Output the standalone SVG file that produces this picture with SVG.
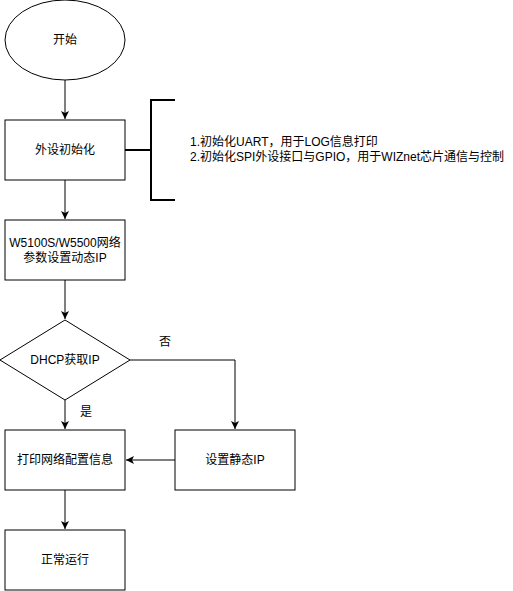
<svg xmlns="http://www.w3.org/2000/svg" width="513" height="591" viewBox="0 0 513 591">
<style>
.s{fill:#fff;stroke:#000;stroke-width:1}
.t{font-family:"Liberation Sans","Noto Sans CJK SC",sans-serif;font-size:12px;fill:#000;text-anchor:middle;dominant-baseline:central}
.tl{font-family:"Liberation Sans","Noto Sans CJK SC",sans-serif;font-size:12px;fill:#000;dominant-baseline:central}
.c{fill:none;stroke:#000;stroke-width:1}
</style>
<defs>
<marker id="a" markerWidth="10" markerHeight="10" refX="8" refY="4" orient="auto" markerUnits="userSpaceOnUse">
<path d="M0,0 L8,4 L0,8 L2,4 Z" fill="#000"/>
</marker>
</defs>
<rect width="513" height="591" fill="#fff"/>
<g id="connectors">
<path class="c" d="M65,80 V119" marker-end="url(#a)"/>
<path class="c" d="M65,180 V219" marker-end="url(#a)"/>
<path class="c" d="M65,280 V319" marker-end="url(#a)"/>
<path class="c" d="M65,400 V429" marker-end="url(#a)"/>
<path class="c" d="M130,360 H235 V429" marker-end="url(#a)"/>
<path class="c" d="M175,460 H126" marker-end="url(#a)"/>
<path class="c" d="M65,490 V529" marker-end="url(#a)"/>
<path class="c" d="M125,150 H150" style="stroke-width:2"/>
<text class="t" x="165" y="342">否</text>
<text class="t" x="86" y="412">是</text>
</g>
<g id="start"><ellipse class="s" cx="65" cy="40" rx="60" ry="40"/><text class="t" x="65" y="40">开始</text></g>
<g id="init"><rect class="s" x="5" y="120" width="120" height="60"/><text class="t" x="65" y="150">外设初始化</text></g>
<g id="note">
<path d="M175,100 H151 V200 H175" fill="none" stroke="#000" stroke-width="2"/>
<text class="tl" x="190" y="142">1.初始化UART，用于LOG信息打印</text>
<text class="tl" x="190" y="157">2.初始化SPI外设接口与GPIO，用于WIZnet芯片通信与控制</text>
</g>
<g id="param"><rect class="s" x="5" y="220" width="120" height="60"/><text class="t" x="65" y="243">W5100S/W5500网络</text><text class="t" x="65" y="258">参数设置动态IP</text></g>
<g id="dhcp"><path class="s" d="M65,320 L130,360 L65,400 L0,360 Z"/><text class="t" x="65" y="360">DHCP获取IP</text></g>
<g id="print"><rect class="s" x="5" y="430" width="120" height="60"/><text class="t" x="65" y="460">打印网络配置信息</text></g>
<g id="static"><rect class="s" x="175" y="430" width="120" height="60"/><text class="t" x="235" y="460">设置静态IP</text></g>
<g id="run"><rect class="s" x="5" y="530" width="120" height="60"/><text class="t" x="65" y="560">正常运行</text></g>
</svg>
